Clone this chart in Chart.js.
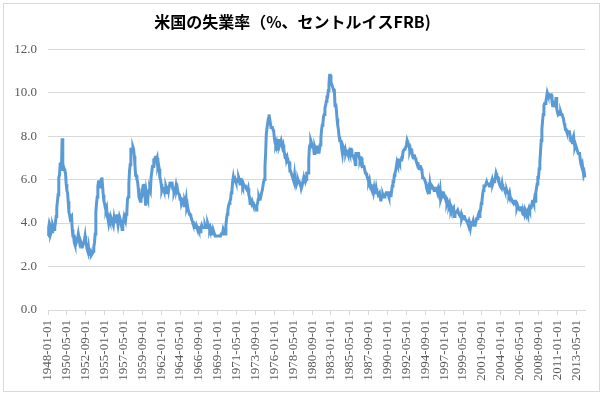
<!DOCTYPE html>
<html>
<head>
<meta charset="utf-8">
<script src="https://cdn.jsdelivr.net/npm/chart.js@4/dist/chart.umd.min.js"></script>
<style>
  body { margin: 0; background: #fff; }
  canvas { display: block; }
</style>
</head>
<body>
<canvas id="unemp-chart" width="604" height="396"></canvas>
<script>
// 米国の失業率（月次、%）-, 1948-01 .. 2014-06
var rates1940s = [
  3.4, 3.8, 4.0, 3.9, 3.5, 3.6, 3.6, 3.9, 3.8, 3.7, 3.8, 4.0,
  4.3, 4.7, 5.0, 5.3, 6.1, 6.2, 6.7, 6.8, 6.6, 7.9, 6.4, 6.6
];
var rates1950s = [
  6.5, 6.4, 6.3, 5.8, 5.5, 5.4, 5.0, 4.5, 4.4, 4.2, 4.2, 4.3,
  3.7, 3.4, 3.4, 3.1, 3.0, 3.2, 3.1, 3.1, 3.3, 3.5, 3.5, 3.1,
  3.2, 3.1, 2.9, 2.9, 3.0, 3.0, 3.2, 3.4, 3.1, 3.0, 2.8, 2.7,
  2.9, 2.6, 2.6, 2.7, 2.5, 2.5, 2.6, 2.7, 2.9, 3.1, 3.5, 4.5,
  4.9, 5.2, 5.7, 5.9, 5.9, 5.6, 5.8, 6.0, 6.1, 5.7, 5.3, 5.0,
  4.9, 4.7, 4.6, 4.7, 4.3, 4.2, 4.0, 4.2, 4.1, 4.3, 4.2, 4.2,
  4.0, 3.9, 4.2, 4.0, 4.3, 4.3, 4.4, 4.1, 3.9, 3.9, 4.3, 4.2,
  4.2, 3.9, 3.7, 3.9, 4.1, 4.3, 4.2, 4.1, 4.4, 4.5, 5.1, 5.2,
  5.8, 6.4, 6.7, 7.4, 7.4, 7.3, 7.5, 7.4, 7.1, 6.7, 6.2, 6.2,
  6.0, 5.9, 5.6, 5.2, 5.1, 5.0, 5.1, 5.2, 5.5, 5.7, 5.8, 5.3
];
var rates1960s = [
  5.2, 4.8, 5.4, 5.2, 5.1, 5.4, 5.5, 5.6, 5.5, 6.1, 6.1, 6.6,
  6.6, 6.9, 6.9, 7.0, 7.1, 6.9, 7.0, 6.6, 6.7, 6.5, 6.1, 6.0,
  5.8, 5.5, 5.6, 5.6, 5.5, 5.5, 5.4, 5.7, 5.6, 5.4, 5.7, 5.5,
  5.7, 5.9, 5.7, 5.7, 5.9, 5.6, 5.6, 5.4, 5.5, 5.5, 5.7, 5.5,
  5.6, 5.4, 5.4, 5.3, 5.1, 5.2, 4.9, 5.0, 5.1, 5.1, 4.8, 5.0,
  4.9, 5.1, 4.7, 4.8, 4.6, 4.6, 4.4, 4.4, 4.3, 4.2, 4.1, 4.0,
  4.0, 3.8, 3.8, 3.8, 3.9, 3.8, 3.8, 3.8, 3.7, 3.7, 3.6, 3.8,
  3.9, 3.8, 3.8, 3.8, 3.8, 3.9, 3.8, 3.8, 3.8, 4.0, 3.9, 3.8,
  3.7, 3.8, 3.7, 3.5, 3.5, 3.7, 3.7, 3.5, 3.4, 3.4, 3.4, 3.4,
  3.4, 3.4, 3.4, 3.4, 3.4, 3.5, 3.5, 3.5, 3.7, 3.7, 3.5, 3.5
];
var rates1970s = [
  3.9, 4.2, 4.4, 4.6, 4.8, 4.9, 5.0, 5.1, 5.4, 5.5, 5.9, 6.1,
  5.9, 5.9, 6.0, 5.9, 5.9, 5.9, 6.0, 6.1, 6.0, 5.8, 6.0, 6.0,
  5.8, 5.7, 5.8, 5.7, 5.7, 5.7, 5.6, 5.6, 5.5, 5.6, 5.3, 5.2,
  4.9, 5.0, 4.9, 5.0, 4.9, 4.9, 4.8, 4.8, 4.8, 4.6, 4.8, 4.9,
  5.1, 5.2, 5.1, 5.1, 5.1, 5.4, 5.5, 5.5, 5.9, 6.0, 6.6, 7.2,
  8.1, 8.1, 8.6, 8.8, 9.0, 8.8, 8.6, 8.4, 8.4, 8.4, 8.3, 8.2,
  7.9, 7.7, 7.6, 7.7, 7.4, 7.6, 7.8, 7.8, 7.6, 7.7, 7.8, 7.8,
  7.5, 7.6, 7.4, 7.2, 7.0, 7.2, 6.9, 7.0, 6.8, 6.8, 6.8, 6.4,
  6.4, 6.3, 6.3, 6.1, 6.0, 5.9, 6.2, 5.9, 6.0, 5.8, 5.9, 6.0,
  5.9, 5.9, 5.8, 5.8, 5.6, 5.7, 5.7, 6.0, 5.9, 6.0, 5.9, 6.0
];
var rates1980s = [
  6.3, 6.3, 6.3, 6.9, 7.5, 7.6, 7.8, 7.7, 7.5, 7.5, 7.5, 7.2,
  7.5, 7.4, 7.4, 7.2, 7.5, 7.5, 7.2, 7.4, 7.6, 7.9, 8.3, 8.5,
  8.6, 8.9, 9.0, 9.3, 9.4, 9.6, 9.8, 9.8, 10.1, 10.4, 10.8, 10.8,
  10.4, 10.4, 10.3, 10.2, 10.1, 10.1, 9.4, 9.5, 9.2, 8.8, 8.5, 8.3,
  8.0, 7.8, 7.8, 7.7, 7.4, 7.2, 7.5, 7.5, 7.3, 7.4, 7.2, 7.3,
  7.3, 7.2, 7.2, 7.3, 7.2, 7.4, 7.4, 7.1, 7.1, 7.1, 7.0, 7.0,
  6.7, 7.2, 7.2, 7.1, 7.2, 7.2, 7.0, 6.9, 7.0, 7.0, 6.9, 6.6,
  6.6, 6.6, 6.6, 6.3, 6.3, 6.2, 6.1, 6.0, 5.9, 6.0, 5.8, 5.7,
  5.7, 5.7, 5.7, 5.4, 5.6, 5.4, 5.4, 5.6, 5.4, 5.4, 5.3, 5.3,
  5.4, 5.2, 5.0, 5.2, 5.2, 5.3, 5.2, 5.2, 5.3, 5.3, 5.4, 5.4
];
var rates1990s = [
  5.4, 5.3, 5.2, 5.4, 5.4, 5.2, 5.5, 5.7, 5.9, 5.9, 6.2, 6.3,
  6.4, 6.6, 6.8, 6.7, 6.9, 6.9, 6.8, 6.9, 6.9, 7.0, 7.0, 7.3,
  7.3, 7.4, 7.4, 7.4, 7.6, 7.8, 7.7, 7.6, 7.6, 7.3, 7.4, 7.4,
  7.3, 7.1, 7.0, 7.1, 7.1, 7.0, 6.9, 6.8, 6.7, 6.8, 6.6, 6.5,
  6.6, 6.6, 6.5, 6.4, 6.1, 6.1, 6.1, 6.0, 5.9, 5.8, 5.6, 5.5,
  5.6, 5.4, 5.4, 5.8, 5.6, 5.6, 5.7, 5.7, 5.6, 5.5, 5.6, 5.6,
  5.6, 5.5, 5.5, 5.6, 5.6, 5.3, 5.5, 5.1, 5.2, 5.2, 5.4, 5.4,
  5.3, 5.2, 5.2, 5.1, 4.9, 5.0, 4.9, 4.8, 4.9, 4.7, 4.6, 4.7,
  4.6, 4.6, 4.7, 4.3, 4.4, 4.5, 4.5, 4.5, 4.6, 4.5, 4.4, 4.4,
  4.3, 4.4, 4.2, 4.3, 4.2, 4.3, 4.3, 4.2, 4.2, 4.1, 4.1, 4.0
];
var rates2000s = [
  4.0, 4.1, 4.0, 3.8, 4.0, 4.0, 4.0, 4.1, 3.9, 3.9, 3.9, 3.9,
  4.2, 4.2, 4.3, 4.4, 4.3, 4.5, 4.6, 4.9, 5.0, 5.3, 5.5, 5.7,
  5.7, 5.7, 5.7, 5.9, 5.8, 5.8, 5.8, 5.7, 5.7, 5.7, 5.9, 6.0,
  5.8, 5.9, 5.9, 6.0, 6.1, 6.3, 6.2, 6.1, 6.1, 6.0, 5.8, 5.7,
  5.7, 5.6, 5.8, 5.6, 5.6, 5.6, 5.5, 5.4, 5.4, 5.5, 5.4, 5.4,
  5.3, 5.4, 5.2, 5.2, 5.1, 5.0, 5.0, 4.9, 5.0, 5.0, 5.0, 4.9,
  4.7, 4.8, 4.7, 4.7, 4.6, 4.6, 4.7, 4.7, 4.5, 4.4, 4.5, 4.4,
  4.6, 4.5, 4.4, 4.5, 4.4, 4.6, 4.7, 4.6, 4.7, 4.7, 4.7, 5.0,
  5.0, 4.9, 5.1, 5.0, 5.4, 5.6, 5.8, 6.1, 6.1, 6.5, 6.8, 7.3,
  7.8, 8.3, 8.7, 9.0, 9.4, 9.5, 9.5, 9.6, 9.8, 10.0, 9.9, 9.9
];
var rates2010s = [
  9.8, 9.8, 9.9, 9.9, 9.6, 9.4, 9.4, 9.5, 9.5, 9.4, 9.8, 9.3,
  9.1, 9.0, 9.0, 9.1, 9.0, 9.1, 9.0, 9.0, 9.0, 8.8, 8.6, 8.5,
  8.3, 8.3, 8.2, 8.2, 8.2, 8.2, 8.2, 8.0, 7.8, 7.8, 7.7, 7.9,
  8.0, 7.7, 7.5, 7.6, 7.5, 7.5, 7.3, 7.2, 7.2, 7.2, 6.9, 6.7,
  6.6, 6.7, 6.7, 6.2, 6.3, 6.1
];

var rates = [].concat(rates1940s, rates1950s, rates1960s, rates1970s,
                      rates1980s, rates1990s, rates2000s, rates2010s);

var startYear = 1948;
var labelEvery = 28; // every 28th month gets a label (1948-01, 1950-05, ...)
var yTicks = [0, 2, 4, 6, 8, 10, 12];

var months = [];
for (var i = 0; i < rates.length; i++) {
  var y = startYear + Math.floor(i / 12);
  var m = (i % 12) + 1;
  months.push(y + '-' + (m < 10 ? '0' + m : m) + '-01');
}

// thin grey frame around the whole chart, like the spreadsheet chart box
var frame = {
  id: 'frame',
  beforeDraw: function(chart) {
    var ctx = chart.ctx;
    ctx.save();
    ctx.fillStyle = '#ffffff';
    ctx.fillRect(0, 0, chart.width, chart.height);
    ctx.strokeStyle = '#d9d9d9';
    ctx.lineWidth = 1;
    ctx.strokeRect(3.5, 3.5, chart.width - 8, chart.height - 8);
    ctx.restore();
  }
};

new Chart(document.getElementById('unemp-chart'), {
  type: 'line',
  data: {
    labels: months,
    datasets: [{
      data: rates,
      borderColor: '#5b9bd5',
      borderWidth: 3,
      pointRadius: 0,
      fill: false,
      tension: 0
    }]
  },
  options: {
    responsive: false,
    animation: false,
    devicePixelRatio: 1,
    layout: { padding: { left: 0, right: 19, top: 0, bottom: 0 } },
    plugins: {
      legend: { display: false },
      tooltip: { enabled: false },
      title: {
        display: true,
        text: '米国の失業率（%、セントルイスFRB)',
        color: '#000000',
        font: { family: '"Noto Sans CJK JP"', size: 16, weight: 'bold' },
        padding: { top: 12, bottom: 18 }
      }
    },
    scales: {
      x: {
        afterFit: function(scale) { scale.height = 86; },
        grid: {
          drawOnChartArea: false,
          drawTicks: true,
          tickLength: 5,
          color: '#d9d9d9'
        },
        border: { display: true, color: '#d9d9d9' },
        ticks: {
          autoSkip: false,
          maxRotation: 90,
          minRotation: 90,
          padding: 5,
          color: '#595959',
          font: { family: '"Liberation Serif"', size: 13 },
          callback: function(val, idx) {
            return idx % labelEvery === 0 ? months[idx] : null;
          }
        }
      },
      y: {
        min: 0,
        max: 12,
        afterFit: function(scale) { scale.width = 48; },
        afterBuildTicks: function(scale) {
          scale.ticks = yTicks.map(function(v) { return { value: v }; });
        },
        grid: { color: '#d9d9d9', drawTicks: false },
        border: { display: false },
        ticks: {
          padding: 11,
          color: '#595959',
          font: { family: '"Liberation Serif"', size: 13 },
          callback: function(v) { return v.toFixed(1); }
        }
      }
    }
  },
  plugins: [frame]
});
</script>
</body>
</html>
